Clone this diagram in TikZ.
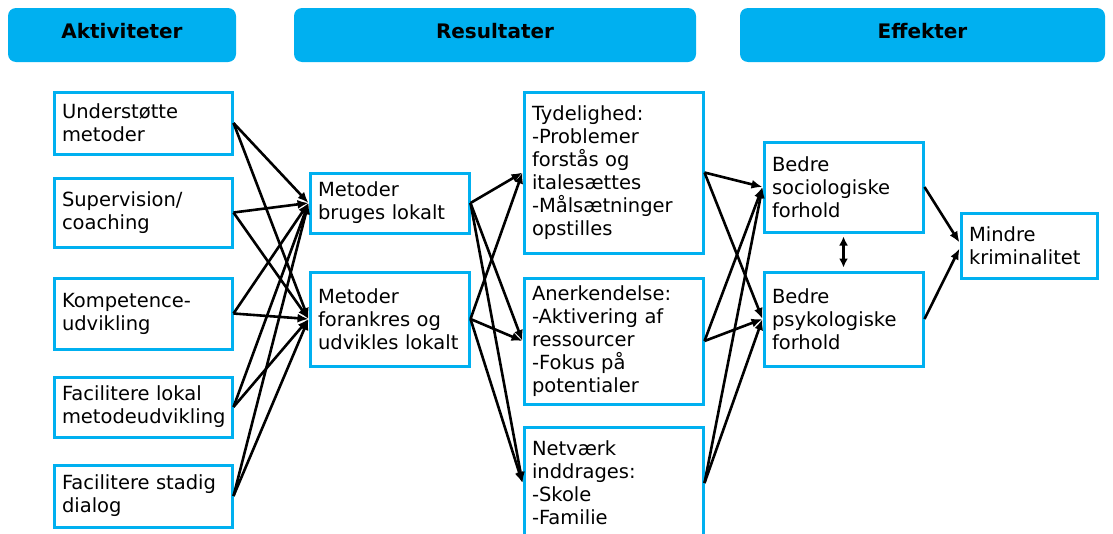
\documentclass[tikz,border=0pt]{standalone}
\usepackage{fontspec}
\setmainfont{DejaVu Sans}
\usetikzlibrary{arrows.meta}
\definecolor{hblue}{HTML}{00B0F0}
\begin{document}
\begin{tikzpicture}[x=1pt,y=-1pt,
  box/.style={draw=hblue, line width=3pt, fill=white, align=left, inner xsep=8pt, inner ysep=0pt, font=\fontsize{19.5}{23}\selectfont},
  hdr/.style={fill=hblue, rounded corners=8pt, font=\bfseries\fontsize{20}{24}\selectfont, text depth=8pt, inner sep=0pt, minimum height=54pt},
  arr/.style={line width=2.6pt, -{Latex[length=11pt,width=9pt]}},
  darr/.style={line width=3pt, {Latex[length=9pt,width=9pt]}-{Latex[length=9pt,width=9pt]}, shorten >=3pt, shorten <=3pt}]
\useasboundingbox (0,0) rectangle (1113,533);
% headers
\node[hdr, minimum width=228pt] (h1) at (122,35) {Aktiviteter};
\node[hdr, minimum width=402pt] (h2) at (495,35) {Resultater};
\node[hdr, minimum width=365pt] (h3) at (922.5,35) {Effekter};
% left column
\node[box, minimum width=178pt, text width=162pt, minimum height=62pt] (u1) at (143,123) {Understøtte\\metoder};
\node[box, minimum width=178pt, text width=162pt, minimum height=69pt] (u2) at (143,212.5) {Supervision/\\coaching};
\node[box, minimum width=178pt, text width=162pt, minimum height=71pt] (u3) at (143,313.5) {Kompetence-\\udvikling};
\node[box, minimum width=178pt, text width=162pt, minimum height=60pt] (u4) at (143,407) {Facilitere lokal\\metodeudvikling};
\node[box, minimum width=178pt, text width=162pt, minimum height=62pt] (u5) at (143,496) {Facilitere stadig\\dialog};
% middle
\node[box, minimum width=159pt, text width=143pt, minimum height=60pt] (m1) at (389.5,203) {Metoder\\bruges lokalt};
\node[box, minimum width=159pt, text width=143pt, minimum height=94pt] (m2) at (389.5,319) {Metoder\\forankres og\\udvikles lokalt};
% results
\node[box, minimum width=179pt, text width=163pt, minimum height=161pt] (r1) at (613.5,172.5) {Tydelighed:\\-Problemer\\forstås og\\italesættes\\-Målsætninger\\opstilles};
\node[box, minimum width=179pt, text width=163pt, minimum height=126pt] (r2) at (613.5,341) {Anerkendelse:\\-Aktivering af\\ressourcer\\-Fokus på\\potentialer};
\node[box, minimum width=179pt, text width=163pt, minimum height=112pt] (r3) at (613.5,483) {Netværk\\inddrages:\\-Skole\\-Familie};
% effects
\node[box, minimum width=159pt, text width=143pt, minimum height=90pt] (e1) at (843.5,187) {Bedre\\sociologiske\\forhold};
\node[box, minimum width=159pt, text width=143pt, minimum height=94pt] (e2) at (843.5,319) {Bedre\\psykologiske\\forhold};
\node[box, minimum width=136pt, text width=120pt, minimum height=65pt] (f) at (1029,245.5) {Mindre\\kriminalitet};
% connectors
\foreach \a in {u1,u2,u3,u4,u5}{
  \foreach \b in {m1,m2}{
    \draw[arr] (\a.east) -- (\b.west);
  }
}
\foreach \a in {m1,m2}{
  \foreach \b in {r1,r2,r3}{
    \draw[arr] (\a.east) -- (\b.west);
  }
}
\foreach \a in {r1,r2,r3}{
  \foreach \b in {e1,e2}{
    \draw[arr] (\a.east) -- (\b.west);
  }
}
\draw[arr] (e1.east) -- ([yshift=3pt]f.west);
\draw[arr] (e2.east) -- ([yshift=-3pt]f.west);
\draw[darr] (e1.south) -- (e2.north);
\end{tikzpicture}
\end{document}
